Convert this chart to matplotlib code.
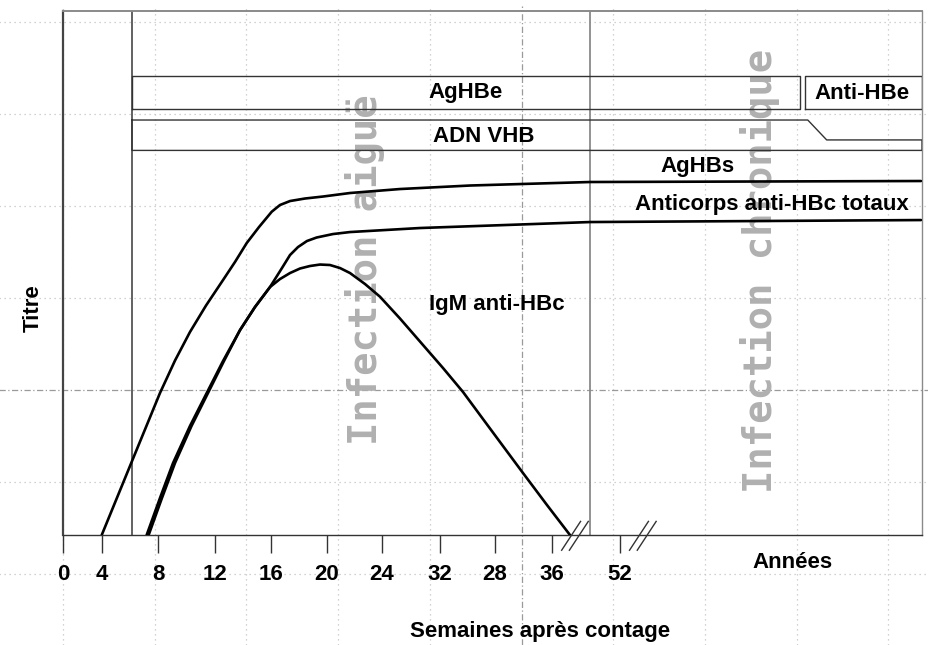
import numpy as np
import matplotlib
matplotlib.use("Agg")
import matplotlib.pyplot as plt

plt.rcParams['font.family'] = ['Liberation Sans', 'DejaVu Sans']

# time axis (not linear in the original drawing), chart units 0-100
tick_pos = [0, 4.5, 11.1, 17.7, 24.2, 30.7, 37.1, 43.9, 50.3, 56.9, 64.8]
tick_labels = ["0", "4", "8", "12", "16", "20", "24", "32", "28", "36", "52"]

# titre curves (x in chart units, y titre 0-100)
aghbs_x = [4.51, 7.92, 11.29, 13.04, 14.78, 16.65, 18.63, 20.02, 21.39,
           22.82, 24.30, 25.26, 26.43, 28.17, 30.27, 33.41, 39.23, 47.38, 61.35, 99.88]
aghbs_y = [0.0, 13.65, 27.10, 33.30, 38.74, 43.80, 48.66, 52.10, 55.73,
           58.78, 61.70, 62.98, 63.74, 64.22, 64.60, 65.27, 66.03, 66.70, 67.37, 67.56]

antihbc_x = [9.74, 11.29, 12.81, 14.78, 16.73, 18.63, 20.61, 22.35, 24.10, 25.49,
             26.43, 27.36, 28.40, 29.53, 31.43, 33.41, 41.56, 61.35, 99.88]
antihbc_y = [0.0, 7.06, 13.74, 20.80, 27.10, 33.21, 39.12, 43.51, 47.33, 50.95,
             53.44, 54.96, 56.11, 56.78, 57.44, 57.82, 58.59, 59.73, 60.11]

igm_x = [9.97, 11.52, 13.04, 14.96, 16.88, 18.74, 20.61, 22.35, 24.10, 25.26, 26.43,
         27.59, 28.75, 29.92, 31.08, 32.25, 33.41, 35.16, 36.90, 39.23, 41.91, 44.24,
         46.57, 48.89, 51.22, 53.55, 56.34, 59.02]
igm_y = [0.0, 7.06, 13.74, 20.80, 27.10, 33.21, 39.12, 43.51, 47.33, 48.85, 50.00,
         50.86, 51.34, 51.62, 51.53, 50.95, 50.00, 47.90, 45.48, 41.32, 36.26, 31.87,
         27.29, 22.14, 16.98, 11.83, 5.73, 0.0]

# marker bands at the top
aghbe_span = (8.03, 85.8)
anti_hbe_span = (86.4, 100.0)
hbe_row = (81.3, 87.6)
adn_x = [8.03, 86.7, 88.9, 100.0, 100.0, 8.03, 8.03]
adn_y = [79.2, 79.2, 75.4, 75.4, 73.4, 73.4, 79.2]

phase_lines = [8.03, 61.35]
axis_breaks = [59.6, 67.5]

fig = plt.figure(figsize=(9.29, 6.45), dpi=100)
ax = fig.add_axes([0.0678, 0.1705, 0.9247, 0.8124])
ax.set_xlim(0, 100)
ax.set_ylim(0, 100)

# page grid (runs over the whole sheet)
grid_kw = dict(color='#c4c4c4', lw=0.9, ls=(0, (1, 3)), clip_on=False, zorder=0)
dash_kw = dict(color='#9a9a9a', lw=0.9, ls=(0, (5, 2, 1, 2)), clip_on=False, zorder=0)
for k in range(10):
    gx = 10.675 * k
    ax.plot([gx, gx], [-21, 101], **(dash_kw if k == 5 else grid_kw))
for k in range(7):
    gy = 97.9 - 17.56 * k
    ax.plot([-7.4, 100.8], [gy, gy], **(dash_kw if k == 4 else grid_kw))

# frame
for side in ['left', 'top', 'right', 'bottom']:
    ax.spines[side].set_zorder(2)
ax.spines['left'].set_color('#444444')
ax.spines['left'].set_linewidth(1.6)
ax.spines['top'].set_color('#8a8a8a')
ax.spines['top'].set_linewidth(1.4)
ax.spines['right'].set_color('#8a8a8a')
ax.spines['right'].set_linewidth(1.0)
ax.spines['bottom'].set_color('#333333')
ax.spines['bottom'].set_linewidth(1.0)
ax.axvline(phase_lines[0], color='#555555', lw=1.3, zorder=2)
ax.axvline(phase_lines[1], color='#8a8a8a', lw=1.3, zorder=2)

ax.set_yticks([])
ax.set_xticks(tick_pos, tick_labels, fontsize=16, fontweight='bold')
ax.tick_params(axis='x', length=13, width=1, pad=8, color='#333333')

# phase watermarks
wm = dict(rotation=90, ha='center', va='center', family='DejaVu Sans Mono',
          weight='bold', size=28, color='#b0b0b0', zorder=1)
ax.text(35.2, 50.6, "Infection aiguë", **wm)
ax.text(81.1, 50.4, "Infection chronique", **wm)

# top bands
box_kw = dict(color='#333333', lw=1.0, zorder=3)
for x0, x1 in [aghbe_span, anti_hbe_span]:
    ax.plot([x0, x1, x1, x0, x0], [hbe_row[0], hbe_row[0], hbe_row[1], hbe_row[1], hbe_row[0]], **box_kw)
ax.plot(adn_x, adn_y, **box_kw)

# curves
curve_kw = dict(color='black', lw=1.9, zorder=4, solid_capstyle='round', solid_joinstyle='round')
ax.plot(aghbs_x, aghbs_y, **curve_kw)
ax.plot(antihbc_x, antihbc_y, **curve_kw)
ax.plot(igm_x, igm_y, **curve_kw)

# axis break marks
for bx in axis_breaks:
    for dx in (-0.45, 0.45):
        ax.plot([bx + dx - 1.1, bx + dx + 1.1], [-2.9, 2.6], color='#333333',
                lw=1.0, clip_on=False, zorder=4)

# labels
lab = dict(ha='center', va='center', fontsize=16, fontweight='bold', zorder=5)
ax.text(46.9, 84.4, "AgHBe", **lab)
ax.text(93.0, 84.2, "Anti-HBe", **lab)
ax.text(49.0, 76.1, "ADN VHB", **lab)
ax.text(73.9, 70.4, "AgHBs", **lab)
ax.text(82.5, 63.0, "Anticorps anti-HBc totaux", **lab)
ax.text(50.5, 43.9, "IgM anti-HBc", **lab)

ax.text(84.9, -5.2, "Années", ha='center', va='center', fontsize=16, fontweight='bold')
ax.text(55.5, -18.5, "Semaines après contage", ha='center', va='center',
        fontsize=16, fontweight='bold')
ax.text(-3.5, 43.3, "Titre", rotation=90, ha='center', va='center',
        fontsize=16, fontweight='bold')

fig.savefig("out.png", dpi=100)
